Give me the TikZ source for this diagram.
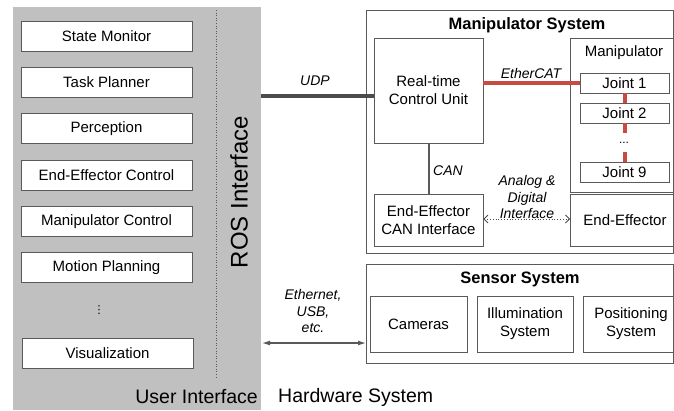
\documentclass[tikz,border=0pt]{standalone}
\usepackage{fontspec}
\setmainfont{Liberation Sans}
\newfontfamily\symfont{DejaVu Sans}
\usetikzlibrary{arrows.meta}
\definecolor{panel}{RGB}{192,192,192}
\definecolor{edge}{RGB}{90,90,90}
\definecolor{ecat}{RGB}{200,75,65}
\begin{document}
\begin{tikzpicture}[x=1pt,y=-1pt,
  txt/.style={font=\fontsize{15}{18}\selectfont,align=center,inner sep=0pt},
  box/.style={txt,draw=edge,fill=white,line width=0.8pt,minimum width=#1},
  box/.default=171pt,
  lbl/.style={font=\fontsize{14}{16.5}\selectfont\itshape,align=center,inner sep=0pt},
  ttl/.style={font=\fontsize{16.5}{19}\selectfont\bfseries,inner sep=0pt},
  big/.style={font=\fontsize{19.5}{22}\selectfont,inner sep=0pt}]
\useasboundingbox (0,0) rectangle (674,410);
% gray panel
\fill[panel] (13,7) rectangle (261,410);
\draw[edge,dotted,line width=0.6pt] (216,10) -- (216,378);
\node[rotate=90,font=\fontsize{24}{26}\selectfont,inner sep=0pt] (ros) at (239,192) {ROS Interface};
\node[big,anchor=east] (ui) at (258,397) {User Interface};
\node[big,anchor=west] (hw) at (278,397) {Hardware System};
% left boxes
\node[box,minimum height=30pt] (sm) at (106.5,36) {State Monitor};
\node[box,minimum height=30pt] (tp) at (106.5,82) {Task Planner};
\node[box,minimum height=30pt] (pc) at (106.5,128.5) {Perception};
\node[box,minimum height=30pt] (eec) at (106.5,175) {End-Effector Control};
\node[box,minimum height=30pt] (mc) at (106.5,221.5) {Manipulator Control};
\node[box,minimum height=30pt] (mp) at (106.5,267.5) {Motion Planning};
\node[font=\symfont\fontsize{11}{12}\selectfont,inner sep=0pt] (vd) at (99,310) {⋮};
\node[box,minimum height=30pt] (vis) at (107.5,353) {Visualization};
% manipulator system
\draw[edge,line width=0.8pt] (366,10) rectangle (673.5,253);
\node[ttl] (mst) at (527,25) {Manipulator System};
\node[box=109pt,minimum height=105pt] (rtcu) at (428.5,90.5) {Real-time\\Control Unit};
\draw[edge,line width=0.8pt] (570,38) rectangle (673.5,192);
\node[txt] (man) at (624,53) {Manipulator};
\node[box=89pt,minimum height=20pt] (j1) at (624.5,83) {Joint 1};
\node[box=89pt,minimum height=20pt] (j2) at (624.5,113) {Joint 2};
\node[font=\fontsize{12}{14}\selectfont,inner sep=0pt] (jd) at (624,143) {...};
\node[box=89pt,minimum height=20pt] (j9) at (624.5,172) {Joint 9};
\draw[ecat,line width=4pt] (j1.south) -- (j2.north);
\draw[ecat,line width=4pt] (j2.south) -- ++(0,10);
\draw[ecat,line width=4pt] (j9.north) -- ++(0,-10);
\draw[ecat,line width=3.5pt] (rtcu.east |- j1.west) -- (j1.west);
\node[lbl] at (531,73) {EtherCAT};
\coordinate (udps) at (261,96);
\draw[black!70,line width=4pt] (udps) -- (rtcu.west |- udps);
\node[lbl] at (315,81) {UDP};
\node[box=109pt,minimum height=52pt] (eecan) at (428.5,220) {End-Effector\\CAN Interface};
\draw[edge,line width=2pt] (rtcu.south -| eecan.north) -- (eecan.north);
\node[lbl] at (448,171) {CAN};
\draw[edge,line width=0.8pt] (570,194) rectangle (673.5,246);
\node[txt] (ee) at (625,220) {End-Effector};
\coordinate (eel) at (570,219);
\draw[black!70,dotted,line width=0.8pt,{Straight Barb[length=4pt]}-{Straight Barb[length=4pt]}] (eecan.east |- eel) -- (eel);
\node[lbl] at (527,197) {Analog \&\\Digital\\Interface};
% sensor system
\draw[edge,line width=0.8pt] (366,264) rectangle (673.5,363);
\node[ttl] (sst) at (520,279) {Sensor System};
\node[box=97pt,minimum height=56pt] (cam) at (418.5,324) {Cameras};
\node[box=96pt,minimum height=56pt] (ill) at (525,324) {Illumination\\System};
\draw[edge,line width=0.8pt,fill=white] (583,296) rectangle (673.5,352);
\node[txt] (pos) at (631,324) {Positioning\\System};
\coordinate (ea) at (262,343);
\coordinate (eb) at (366,343);
\draw[black!65,line width=1.2pt,{Latex[length=8pt,width=5pt]}-{Latex[length=8pt,width=5pt]}] (ea) -- (eb);
\node[lbl] at (313,311) {Ethernet,\\USB,\\etc.};
\end{tikzpicture}
\end{document}
